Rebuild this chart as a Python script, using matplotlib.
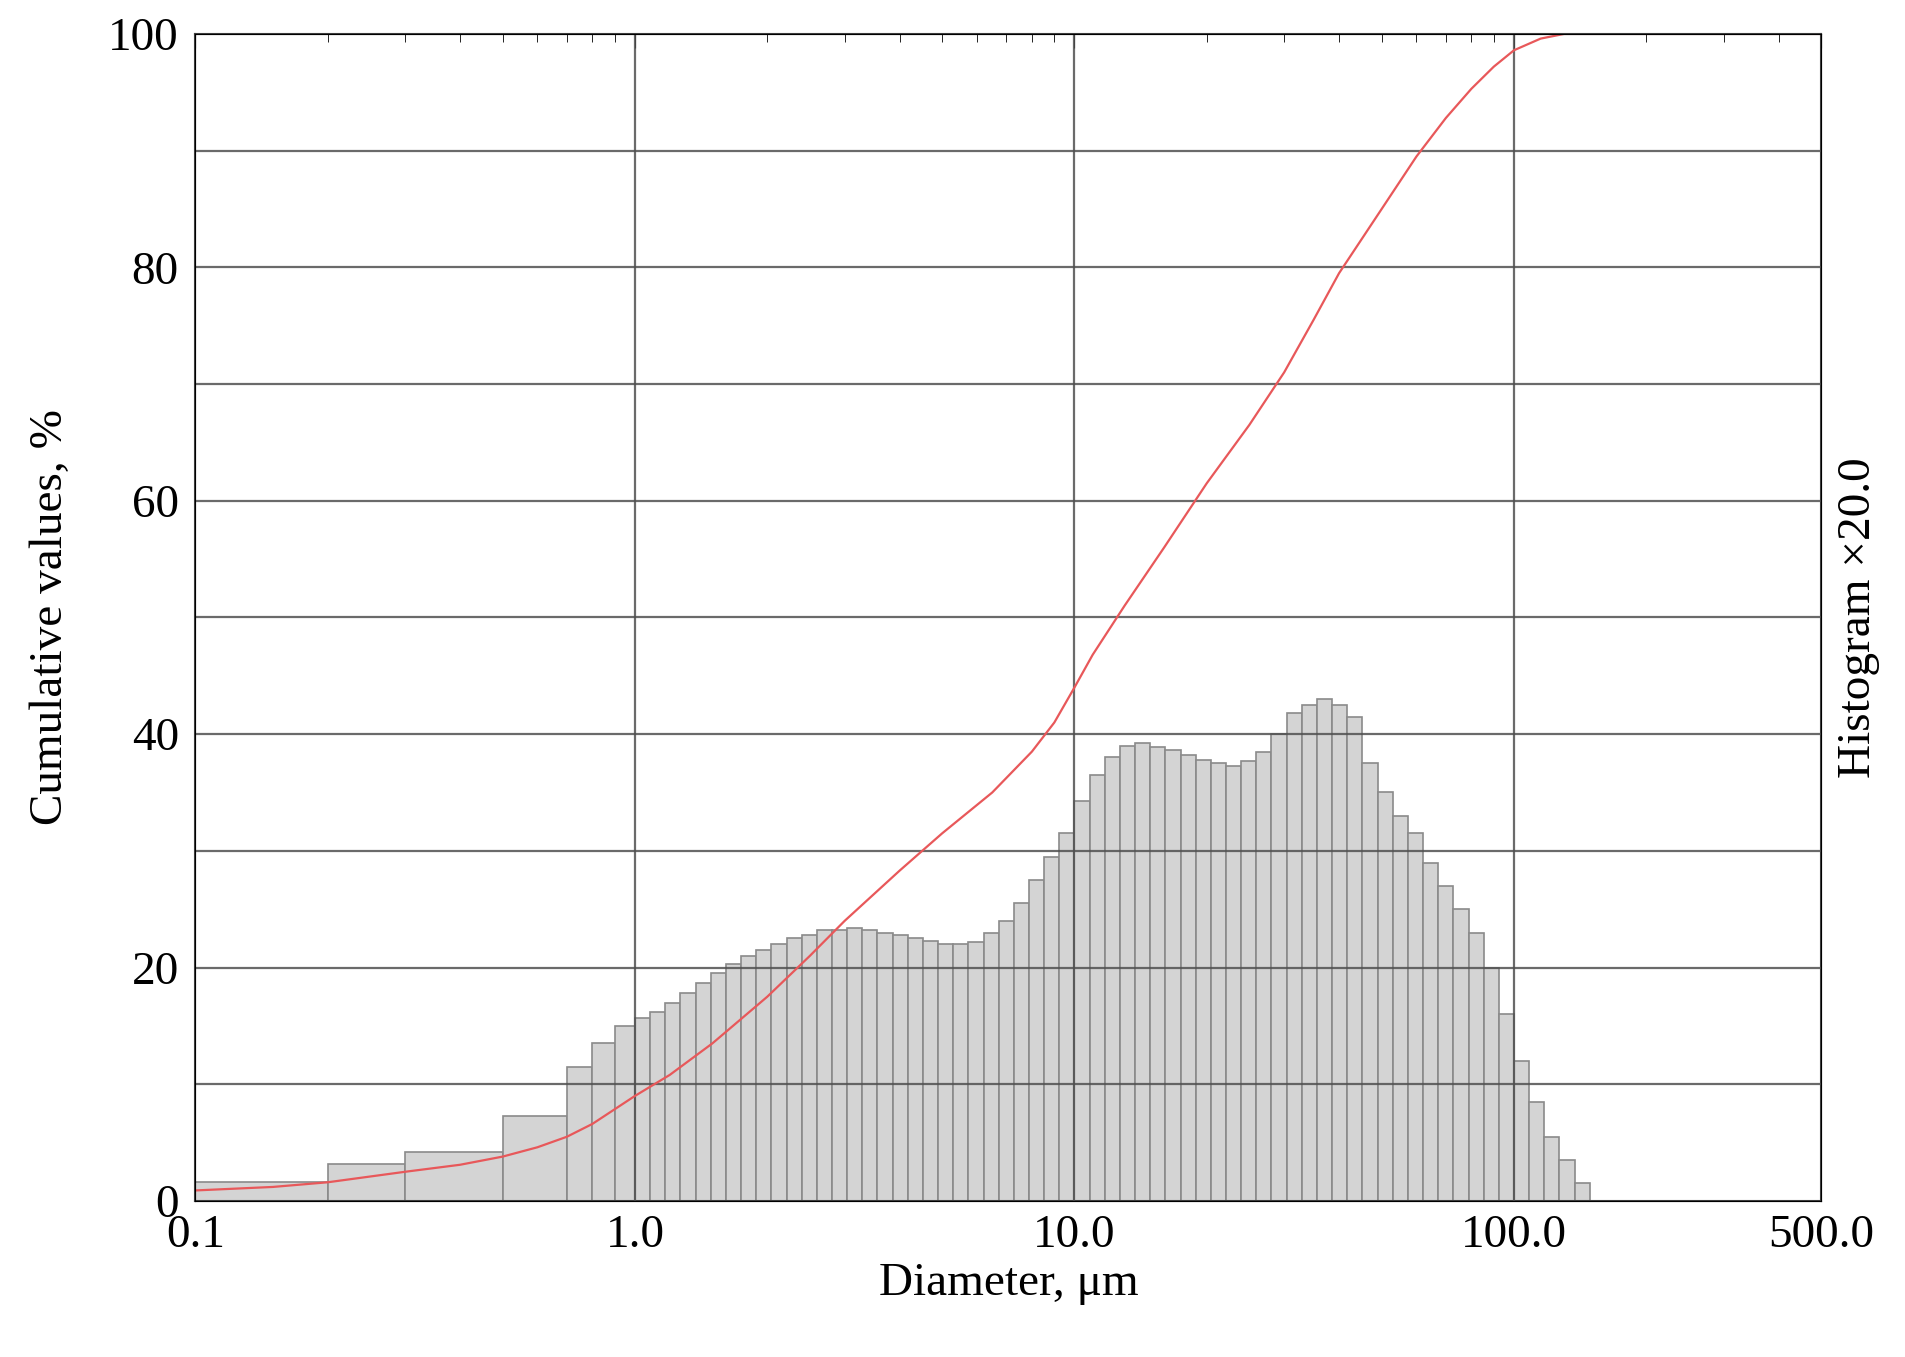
import numpy as np
import matplotlib.pyplot as plt
from matplotlib.ticker import FixedLocator, NullFormatter

plt.rcParams['font.family'] = ['Liberation Serif', 'DejaVu Serif']

# coarse bins below 1 um
low_edges = [0.1, 0.2, 0.3, 0.5, 0.7, 0.8, 0.9, 1.0]
low_heights = [1.6, 3.2, 4.2, 7.3, 11.5, 13.5, 15.0]

# fine bins from 1 um, 29 per decade
fine_heights = [15.7, 16.2, 17.0, 17.8, 18.7, 19.5, 20.3, 21.0, 21.5, 22.0,
                22.5, 22.8, 23.2, 23.2, 23.4, 23.2, 23.0, 22.8, 22.5, 22.3,
                22.0, 22.0, 22.2, 23.0, 24.0, 25.5, 27.5, 29.5, 31.5,
                34.3, 36.5, 38.0, 39.0, 39.2, 38.9, 38.6, 38.2, 37.8, 37.5,
                37.3, 37.7, 38.5, 40.0, 41.8, 42.5, 43.0, 42.5, 41.5, 37.5,
                35.0, 33.0, 31.5, 29.0, 27.0, 25.0, 23.0, 20.0, 16.0, 12.0,
                8.5, 5.5, 3.5, 1.5]
fine_edges = 10 ** (np.arange(len(fine_heights) + 1) / 29.0)

cum_x = [0.1, 0.15, 0.2, 0.3, 0.4, 0.5, 0.6, 0.7, 0.8, 1.0, 1.2, 1.5, 2.0, 2.5,
         3.0, 4.0, 5.0, 6.5, 8.0, 9.0, 10.0, 11.0, 13.0, 16.0, 20.0, 25.0, 30.0,
         35.0, 40.0, 50.0, 60.0, 70.0, 80.0, 90.0, 100.0, 115.0, 130.0, 150.0, 500.0]
cum_y = [0.9, 1.2, 1.6, 2.5, 3.1, 3.8, 4.6, 5.5, 6.6, 9.0, 10.8, 13.5, 17.5, 21.0,
         24.0, 28.3, 31.5, 35.0, 38.5, 41.0, 44.0, 46.8, 51.0, 56.0, 61.5, 66.5, 71.0,
         75.5, 79.5, 85.0, 89.5, 92.8, 95.3, 97.2, 98.6, 99.6, 100.0, 100.0, 100.0]

fig = plt.figure(figsize=(19.05, 13.57), dpi=100)
ax = fig.add_axes([0.1026, 0.115, 0.8534, 0.86])

edges = np.concatenate([low_edges, fine_edges[1:]])
heights = low_heights + fine_heights
ax.bar(edges[:-1], heights, width=np.diff(edges), align='edge',
       color='#d4d4d4', edgecolor='#8a8a8a', linewidth=1.2, zorder=2)

ax.plot(cum_x, cum_y, color='#e8585a', linewidth=1.6, zorder=4)

ax.set_xscale('log')
ax.set_xlim(0.1, 500)
ax.set_ylim(0, 100)

for v in range(10, 100, 10):
    ax.axhline(v, color='#505050', linewidth=1.6, zorder=3, alpha=0.85)
for v in [1, 10, 100]:
    ax.axvline(v, color='#505050', linewidth=1.6, zorder=3, alpha=0.85)

ax.xaxis.set_major_locator(FixedLocator([0.1, 1, 10, 100, 500]))
ax.set_xticklabels(['0.1', '1.0', '10.0', '100.0', '500.0'])
ax.xaxis.set_minor_locator(FixedLocator(
    [k * 10.0 ** e for e in (-1, 0, 1, 2) for k in range(2, 10) if k * 10.0 ** e < 500]))
ax.xaxis.set_minor_formatter(NullFormatter())
ax.tick_params(axis='x', which='both', top=True, bottom=False, direction='in',
               labelsize=34, pad=10)
ax.tick_params(axis='x', which='major', length=10)
ax.tick_params(axis='x', which='minor', length=6)
ax.set_yticks([0, 20, 40, 60, 80, 100])
ax.tick_params(axis='y', labelsize=34, length=0, pad=12)

ax.set_xlabel('Diameter, μm', fontsize=34, labelpad=4)
ax.set_ylabel('Cumulative values, %', fontsize=34, labelpad=26)
ax2 = ax.twinx()
ax2.set_yticks([])
ax2.set_ylabel('Histogram ×20.0', fontsize=34, labelpad=12)

for s in ax.spines.values():
    s.set_color('#404040')
    s.set_linewidth(1.5)

fig.savefig('out.png', dpi=100)
